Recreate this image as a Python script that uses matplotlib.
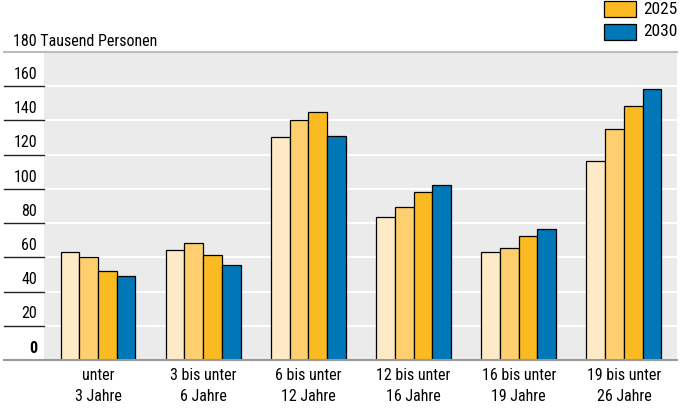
import matplotlib
matplotlib.use("Agg")
import matplotlib.pyplot as plt
import matplotlib.transforms as mtransforms
import matplotlib.font_manager as fm
from matplotlib.patches import Rectangle
import numpy as np

# pick a narrow font if one is installed
names = set(f.name for f in fm.fontManager.ttflist)
narrow = [n for n in ['Liberation Sans Narrow', 'DejaVu Sans Condensed', 'Roboto Condensed',
                      'Open Sans Condensed', 'Noto Sans Condensed'] if n in names]
plt.rcParams['font.family'] = narrow + ['DejaVu Sans']
stretch = 'normal' if narrow else 'condensed'

# data (Tausend Personen)
groups = ['unter\n3 Jahre', '3 bis unter\n6 Jahre', '6 bis unter\n12 Jahre',
          '12 bis unter\n16 Jahre', '16 bis unter\n19 Jahre', '19 bis unter\n26 Jahre']
series = ['2015', '2020', '2025', '2030']
v2015 = [63.3, 64.2, 130.1, 83.3, 63.3, 116.2]
v2020 = [60.1, 68.1, 140.0, 89.2, 65.2, 135.1]
v2025 = [52.2, 61.3, 145.2, 97.9, 72.2, 148.2]
v2030 = [49.0, 55.3, 131.2, 102.0, 76.3, 158.1]
values = [v2015, v2020, v2025, v2030]
colors = ['#feeac6', '#fece6f', '#fbba21', '#0077b6']
yticks = [0, 20, 40, 60, 80, 100, 120, 140, 160]

W, H = 689, 412
fig = plt.figure(figsize=(W/100, H/100), dpi=100)
ax = fig.add_axes([44/W, 1-360/H, 633/W, 308/H])
ax.set_facecolor('#ebebeb')

x = np.arange(len(groups))
w = 0.178
for i in range(4):
    ax.bar(x + (i-1.5)*w, values[i], width=w, color=colors[i],
           edgecolor='black', linewidth=0.9, zorder=3, label=series[i])

ax.set_xlim(-0.513, 5.505)
ax.set_ylim(0, 180)
for t in yticks[1:]:
    ax.axhline(t, color='white', linewidth=1.5, zorder=1)

for s in ax.spines.values():
    s.set_visible(False)
ax.set_yticks([])
ax.set_xticks(x)
ax.set_xticklabels(groups, fontsize=11.5, linespacing=1.5, fontstretch=stretch)
ax.tick_params(axis='x', length=0, pad=6)

# tick lines and labels on the left, labels above the lines
left = -40/633
trans = mtransforms.blended_transform_factory(ax.transAxes, ax.transData)
for t in yticks[1:]:
    ax.plot([left, 0], [t, t], transform=trans, color='#222222', linewidth=1, clip_on=False)
    ax.text(-0.011, t + 2.5, str(t), transform=trans, ha='right', va='bottom',
            fontsize=11.5, fontstretch=stretch)
ax.text(-0.011, 2.5, '0', transform=trans, ha='right', va='bottom', fontsize=11.5,
        fontweight='bold', fontstretch=stretch)
ax.plot([left, 1], [0, 0], transform=trans, color='#999999', linewidth=1.5, clip_on=False, zorder=5)
ax.plot([left, 1], [180, 180], transform=trans, color='#bbbbbb', linewidth=1.5, clip_on=False, zorder=5)

fig.text(13/W, 1-46/H, '180 Tausend Personen', fontsize=11.5, ha='left', va='baseline',
         fontstretch=stretch)

# legend (only the two later years are shown)
for k, i in enumerate([2, 3]):
    y0 = 1 + 23*k
    fig.add_artist(Rectangle((604/W, 1-(y0+16)/H), 32/W, 16/H, transform=fig.transFigure,
                             facecolor=colors[i], edgecolor='black', linewidth=0.9))
    fig.text(643/W, 1-(y0+8)/H, series[i], fontsize=12.5, ha='left', va='center',
             fontstretch=stretch)

fig.savefig('out.png', dpi=100)
